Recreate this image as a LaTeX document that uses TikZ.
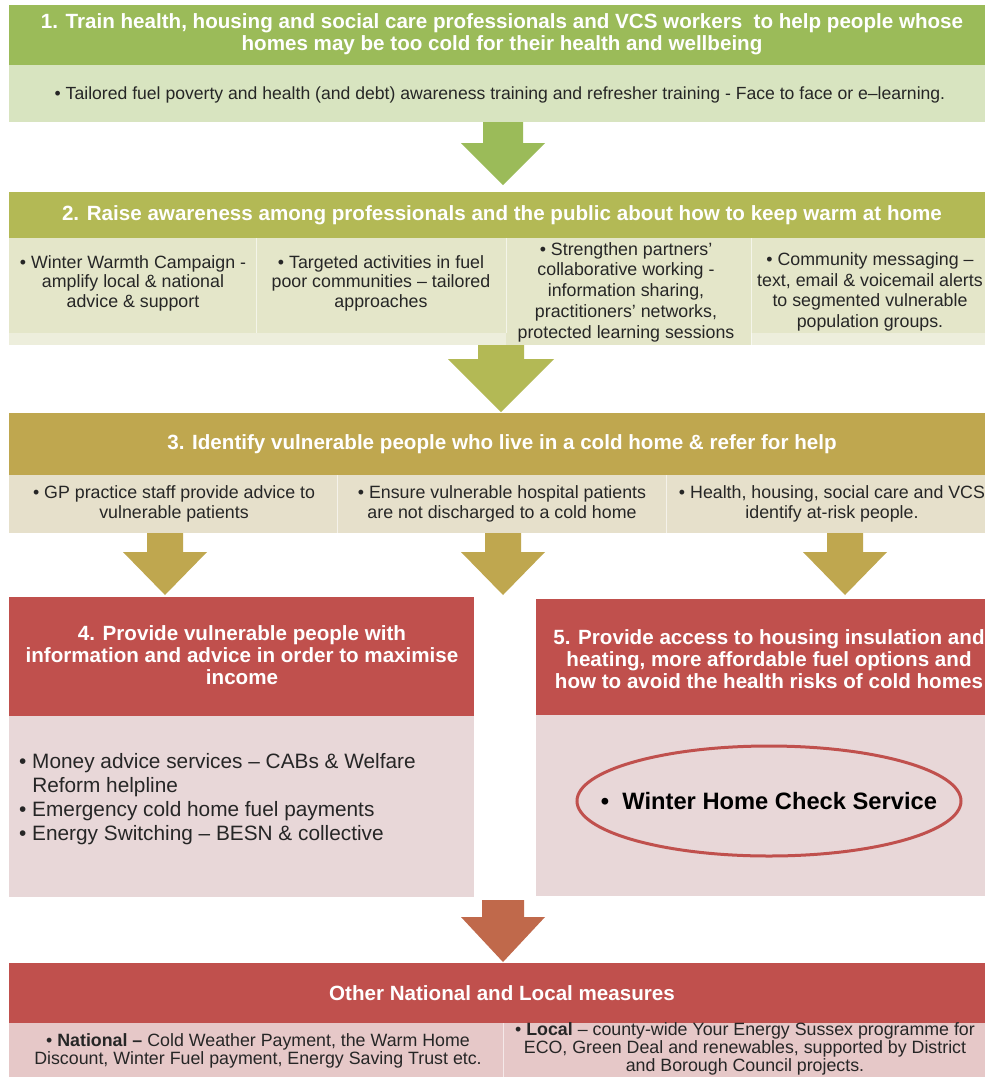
\documentclass[tikz,border=0pt]{standalone}
\usepackage{fontspec}
\setmainfont{Liberation Sans}
\usetikzlibrary{calc,shapes.geometric}
\definecolor{gH}{HTML}{9BBB59}
\definecolor{gB}{HTML}{D8E4C0}
\definecolor{oH}{HTML}{B3B955}
\definecolor{oB}{HTML}{E4E6C9}
\definecolor{oS}{HTML}{EDEEDC}
\definecolor{yH}{HTML}{BFA74F}
\definecolor{yB}{HTML}{E6E0CB}
\definecolor{rH}{HTML}{C0504D}
\definecolor{rB}{HTML}{E8D7D8}
\definecolor{rB2}{HTML}{E6C8C8}
\definecolor{aR}{HTML}{C0694B}
\definecolor{txt}{HTML}{262626}
\newcommand\hdrfont{\fontsize{20.6}{22}\selectfont\bfseries}
\newcommand\bodyfont{\fontsize{17.8}{19.5}\selectfont}
\newcommand\bigbodyfont{\fontsize{20.8}{24}\selectfont}
% color, start coordinate, tip coordinate, shaft half width, head half width, shaft length
\newcommand\blockarrow[6]{%
  \fill[#1] let \p1=(#2), \p2=(#3) in
   (\x1-#4pt,\y1) -- (\x1+#4pt,\y1) -- (\x1+#4pt,\y1-#6pt) -- (\x1+#5pt,\y1-#6pt)
   -- (\x1,\y2) -- (\x1-#5pt,\y1-#6pt) -- (\x1-#4pt,\y1-#6pt) -- cycle;}
\begin{document}
\begin{tikzpicture}[x=1pt,y=-1pt,
  panel/.style={inner sep=0pt, outer sep=0pt, anchor=north west, draw=none},
  sep/.style={draw=white, line width=0.8pt, opacity=0.6},
  hdrtext/.style={text=white, font=\hdrfont, align=center, inner sep=0pt},
  bodytext/.style={text=txt, font=\bodyfont, align=center, inner sep=0pt},
]
\useasboundingbox[fill=white] (0,0) rectangle (985,1077);

% ---------- Box 1 ----------
\node[panel, fill=gH, minimum width=976, minimum height=60] (h1) at (9,5) {};
\node[panel, fill=gB, minimum width=976, minimum height=57] (b1) at (9,65) {};
\node[hdrtext] (t1) at (502,34) {1. Train health, housing and social care professionals and VCS workers\ \ to help people whose\\homes may be too cold for their health and wellbeing};
\node[bodytext, font=\fontsize{17.6}{19.5}\selectfont] (s1) at (500,95) {• Tailored fuel poverty and health (and debt) awareness training and refresher training - Face to face or e–learning.};

\coordinate (a1s) at (503,122);
\coordinate (a1t) at (503,185);
\blockarrow{gH}{a1s}{a1t}{20}{42}{21}

% ---------- Box 2 ----------
\node[panel, fill=oH, minimum width=976, minimum height=46] (h2) at (9,192) {};
\node[panel, fill=oS, minimum width=976, minimum height=107] (b2) at (9,238) {};
\node[panel, fill=oB, minimum width=247, minimum height=95] (c21) at (9,238) {};
\node[panel, fill=oB, minimum width=250, minimum height=95] (c22) at (256,238) {};
\node[panel, fill=oB, minimum width=245, minimum height=107] (c23) at (506,238) {};
\node[panel, fill=oB, minimum width=234, minimum height=95] (c24) at (751,238) {};
\draw[sep] (c21.north east) -- (c21.south east);
\draw[sep] (c22.north east) -- (c22.south east);
\draw[sep] (c23.north east) -- (c23.south east);
\node[hdrtext] (t2) at (502,215) {2. Raise awareness among professionals and the public about how to keep warm at home};
\node[bodytext] (s21) at (133,283) {• Winter Warmth Campaign -\\amplify local \& national\\advice \& support};
\node[bodytext] (s22) at (381,283) {• Targeted activities in fuel\\poor communities – tailored\\approaches};
\node[bodytext, font=\fontsize{17.8}{20.7}\selectfont] (s23) at (626,292) {• Strengthen partners’\\collaborative working -\\information sharing,\\practitioners’ networks,\\protected learning sessions};
\node[bodytext, font=\fontsize{17.8}{20.7}\selectfont] (s24) at (870,292) {• Community messaging –\\text, email \& voicemail alerts\\to segmented vulnerable\\population groups.};

\coordinate (a2s) at (501,345);
\coordinate (a2t) at (501,412);
\blockarrow{oH}{a2s}{a2t}{23}{53}{14}

% ---------- Box 3 ----------
\node[panel, fill=yH, minimum width=976, minimum height=62] (h3) at (9,413) {};
\node[panel, fill=yB, minimum width=328, minimum height=58] (c31) at (9,475) {};
\node[panel, fill=yB, minimum width=329, minimum height=58] (c32) at (337,475) {};
\node[panel, fill=yB, minimum width=319, minimum height=58] (c33) at (666,475) {};
\draw[sep] (c31.north east) -- (c31.south east);
\draw[sep] (c32.north east) -- (c32.south east);
\node[hdrtext] (t3) at (502,444) {3. Identify vulnerable people who live in a cold home \& refer for help};
\node[bodytext] (s31) at (174,504) {• GP practice staff provide advice to\\vulnerable patients};
\node[bodytext] (s32) at (502,504) {• Ensure vulnerable hospital patients\\are not discharged to a cold home};
\node[bodytext] (s33) at (832,504) {• Health, housing, social care and VCS\\identify at-risk people.};

\coordinate (a31s) at (165,533);
\coordinate (a31t) at (165,595);
\coordinate (a32s) at (503,533);
\coordinate (a32t) at (503,595);
\coordinate (a33s) at (845,533);
\coordinate (a33t) at (845,595);
\blockarrow{yH}{a31s}{a31t}{18}{42}{19}
\blockarrow{yH}{a32s}{a32t}{18}{42}{19}
\blockarrow{yH}{a33s}{a33t}{18}{42}{19}

% ---------- Box 4 ----------
\node[panel, fill=rH, minimum width=465, minimum height=119] (h4) at (9,597) {};
\node[panel, fill=rB, minimum width=465, minimum height=181] (b4) at (9,716) {};
\node[hdrtext] (t4) at (242,655) {4. Provide vulnerable people with\\information and advice in order to maximise\\income};
\node[text=txt, font=\bigbodyfont, align=left, inner sep=0pt, anchor=west] (s4) at (19,799)
 {• Money advice services – CABs \& Welfare\\\phantom{• }Reform helpline\\• Emergency cold home fuel payments\\• Energy Switching – BESN \& collective};

% ---------- Box 5 ----------
\node[panel, fill=rH, minimum width=449, minimum height=116] (h5) at (536,599) {};
\node[panel, fill=rB, minimum width=449, minimum height=181] (b5) at (536,715) {};
\node[hdrtext] (t5) at (769,659) {5. Provide access to housing insulation and\\heating, more affordable fuel options and\\how to avoid the health risks of cold homes};
\node[ellipse, draw=rH, line width=3pt, minimum width=384, minimum height=110, inner sep=0pt] (whc) at (769,801) {};
\node[inner sep=0pt, text=black, font=\fontsize{23.7}{26}\selectfont\bfseries] (whct) at (whc.center) {•\ \ Winter Home Check Service};

\coordinate (a4s) at (503,900);
\coordinate (a4t) at (503,962);
\blockarrow{aR}{a4s}{a4t}{21}{42}{17}

% ---------- Box 6 ----------
\node[panel, fill=rH, minimum width=976, minimum height=60] (h6) at (9,963) {};
\node[panel, fill=rB2, minimum width=494, minimum height=54] (c61) at (9,1023) {};
\node[panel, fill=rB2, minimum width=482, minimum height=54] (c62) at (503,1023) {};
\draw[sep] (c61.north east) -- (c61.south east);
\node[hdrtext] (t6) at (502,993) {Other National and Local measures};
\node[bodytext, font=\fontsize{17.8}{18}\selectfont] (s61) at (258,1051) {• \textbf{National –} Cold Weather Payment, the Warm Home\\Discount, Winter Fuel payment, Energy Saving Trust etc.};
\node[bodytext, font=\fontsize{17.8}{18}\selectfont] (s62) at (745,1049) {• \textbf{Local} – county-wide Your Energy Sussex programme for\\ECO, Green Deal and renewables, supported by District\\and Borough Council projects.};
\end{tikzpicture}
\end{document}
